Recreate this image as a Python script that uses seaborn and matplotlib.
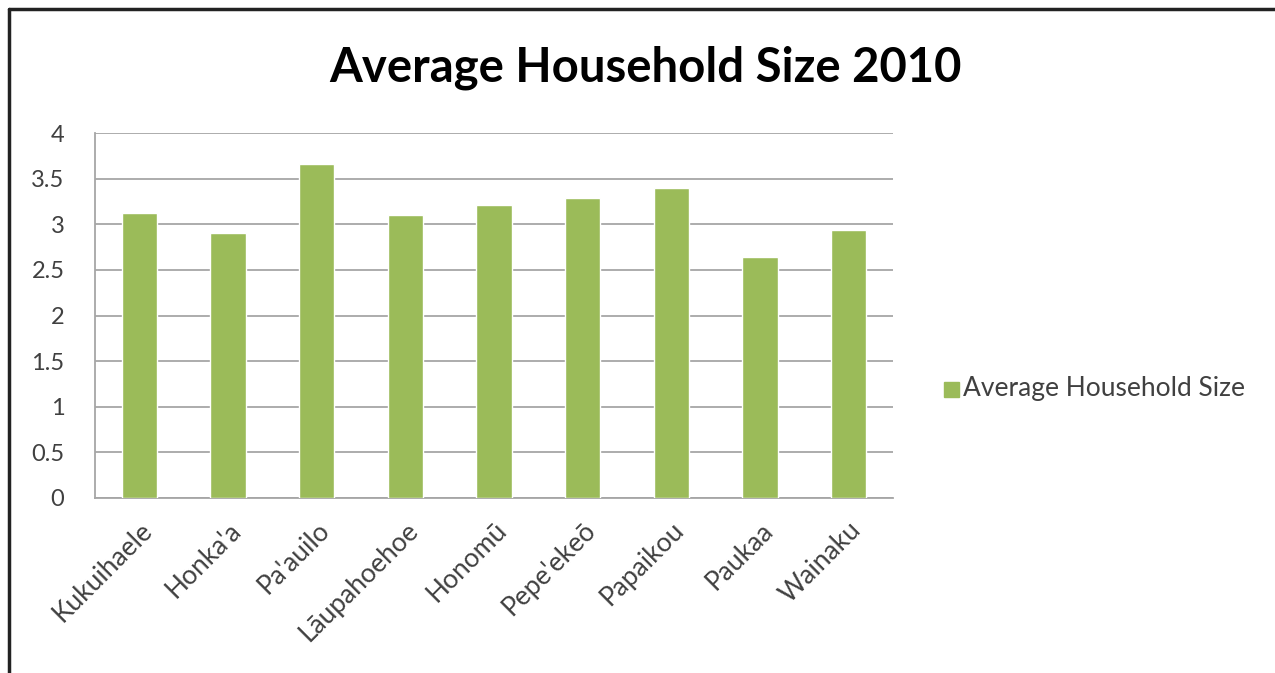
import matplotlib
matplotlib.use("Agg")
import matplotlib.pyplot as plt
import seaborn as sns
import pandas as pd
import numpy as np
from matplotlib.lines import Line2D
from matplotlib.patches import Rectangle

places = ["Kukuihaele", "Honka'a", "Pa'auilo", "Lāupahoehoe", "Honomū",
          "Pepe'ekeō", "Papaikou", "Paukaa", "Wainaku"]
household_size = [3.12, 2.90, 3.66, 3.10, 3.21, 3.29, 3.40, 2.64, 2.94]
y_ticks = [0, 0.5, 1, 1.5, 2, 2.5, 3, 3.5, 4]
y_labels = ["0", "0.5", "1", "1.5", "2", "2.5", "3", "3.5", "4"]

df = pd.DataFrame({"place": places, "size": household_size})

sns.set_style("white")
plt.rcParams["font.family"] = ["Lato", "DejaVu Sans"]

green = "#9bbb59"
grid_grey = "#a6a6a6"
text_grey = "#404040"

fig = plt.figure(figsize=(12.75, 6.73), dpi=100)
ax = fig.add_axes([95 / 1275, 1 - 498 / 673, (893 - 95) / 1275, (498 - 133) / 673])

sns.barplot(data=df, x="place", y="size", color=green, width=0.4,
            saturation=1, ax=ax, zorder=3)

ax.set_ylim(0, 4)
ax.set_xlim(-0.5, len(places) - 0.5)
ax.set_yticks(y_ticks)
ax.set_yticklabels(y_labels, fontsize=17, color=text_grey)
ax.yaxis.grid(True, color=grid_grey, linewidth=1.3, zorder=0)
ax.set_axisbelow(True)
ax.set_xlabel("")
ax.set_ylabel("")

ax.set_xticks(range(len(places)))
ax.set_xticklabels(places, rotation=45, ha="right", rotation_mode="anchor",
                   fontsize=19, color=text_grey)
ax.set_xticks(np.arange(-0.5, len(places), 1), minor=True)
ax.tick_params(axis="x", which="major", length=0, pad=14)
ax.tick_params(axis="x", which="minor", length=8, color=grid_grey, direction="out")
ax.tick_params(axis="y", length=8, color=grid_grey, direction="out", pad=14)

for side in ["top", "right"]:
    ax.spines[side].set_visible(False)
for side in ["left", "bottom"]:
    ax.spines[side].set_color(grid_grey)
    ax.spines[side].set_linewidth(1.3)

fig.text(645 / 1275, 1 - 68 / 673, "Average Household Size 2010",
         ha="center", va="center", fontsize=34, fontweight="bold", color="black")

# legend
fig.patches.append(Rectangle((944 / 1275, 1 - 397 / 673), 15 / 1275, 15 / 673,
                             transform=fig.transFigure, color=green))
fig.text(963 / 1275, 1 - 389 / 673, "Average Household Size", ha="left",
         va="center", fontsize=19, color=text_grey)

# frame: dark left and top edges only
fig.lines.append(Line2D([9 / 1275, 9 / 1275], [0, 1 - 9 / 673],
                        transform=fig.transFigure, color="#222222", linewidth=2.5))
fig.lines.append(Line2D([9 / 1275, 1], [1 - 9 / 673, 1 - 9 / 673],
                        transform=fig.transFigure, color="#222222", linewidth=2.5))

fig.savefig("out.png", dpi=100)
